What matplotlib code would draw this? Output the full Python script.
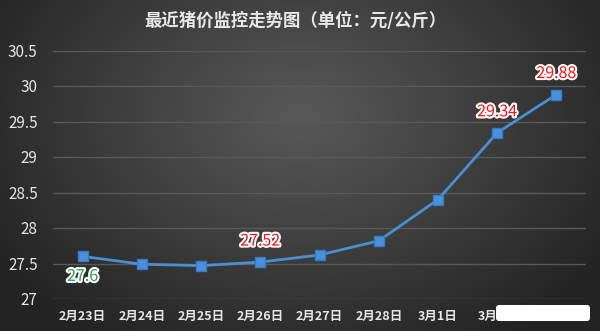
import numpy as np
import matplotlib
matplotlib.use("Agg")
import matplotlib.pyplot as plt
import matplotlib.patheffects as pe
from matplotlib.patches import FancyBboxPatch

plt.rcParams['font.family'] = ['Noto Sans CJK SC', 'DejaVu Sans']

dates = ["2月23日", "2月24日", "2月25日", "2月26日", "2月27日", "2月28日", "3月1日", "3月2日", "3月3日"]
prices = [27.6, 27.49, 27.47, 27.52, 27.62, 27.82, 28.4, 29.34, 29.88]
yticks = [27, 27.5, 28, 28.5, 29, 29.5, 30, 30.5]
title = "最近猪价监控走势图（单位：元/公斤）"

W, H = 600, 331
fig = plt.figure(figsize=(W / 100, H / 100), dpi=100)

# radial-ish gradient background
bg = fig.add_axes([0, 0, 1, 1])
yy, xx = np.mgrid[0:H, 0:W]
d = np.sqrt(((xx - W * 0.5) / (W * 0.6)) ** 2 + ((yy - H * 0.35) / (H * 0.8)) ** 2)
v = 0.35 - 0.21 * np.clip(d, 0, 1)
img = np.dstack([v, v, v])
bg.imshow(img, aspect='auto', extent=[0, 1, 0, 1])
bg.set_xlim(0, 1)
bg.set_ylim(0, 1)
bg.set_axis_off()

ax = fig.add_axes([53 / W, 1 - 299 / H, (586 - 53) / W, (299 - 50.5) / H])
ax.patch.set_alpha(0)
x = np.arange(len(dates))
ax.plot(x, prices, color='#4a8fd6', lw=2, marker='s', ms=7.5,
        markerfacecolor='#4a90dc', markeredgecolor='#3a7cc4', zorder=3)
ax.set_xlim(-0.5, len(dates) - 0.5)
ax.set_ylim(27, 30.5)
ax.set_yticks(yticks)
ax.set_yticklabels([f"{t:g}" for t in yticks])
ax.set_xticks(x)
ax.set_xticklabels(dates)
ax.grid(axis='y', color='#595959', lw=1)
ax.set_axisbelow(True)
for s in ax.spines.values():
    s.set_visible(False)
ax.tick_params(axis='both', length=0, colors='#e6e6e6')
ax.tick_params(axis='y', labelsize=11, pad=11)
ax.tick_params(axis='x', labelsize=9, pad=8)
for lbl in ax.get_xticklabels():
    lbl.set_fontweight('bold')

halo = [pe.withStroke(linewidth=3, foreground='white')]
ann = [(0, '#1aa84a', 0, -20), (3, '#ff1010', 0, 21),
       (7, '#ff1010', 0, 21), (8, '#ff1010', 0, 21)]
for i, col, dx, dy in ann:
    ax.annotate(f"{prices[i]:g}", (i, prices[i]), xytext=(dx, dy), textcoords='offset pixels',
                ha='center', va='center', color=col, fontsize=11.5,
                path_effects=halo, zorder=5)

fig.text(295 / W, 1 - 21 / H, title, ha='center', va='center', color='#e8e8e8',
         fontsize=12.5, fontweight='bold')

# white watermark blot over the bottom-right corner
bg2 = fig.add_axes([0, 0, 1, 1], zorder=10)
bg2.set_xlim(0, W)
bg2.set_ylim(H, 0)
bg2.set_axis_off()
bg2.patch.set_alpha(0)
bg2.add_patch(FancyBboxPatch((497, 306), 92, 14, boxstyle="round,pad=1,rounding_size=3",
                             facecolor='white', edgecolor='none'))

fig.savefig("out.png", dpi=100)
